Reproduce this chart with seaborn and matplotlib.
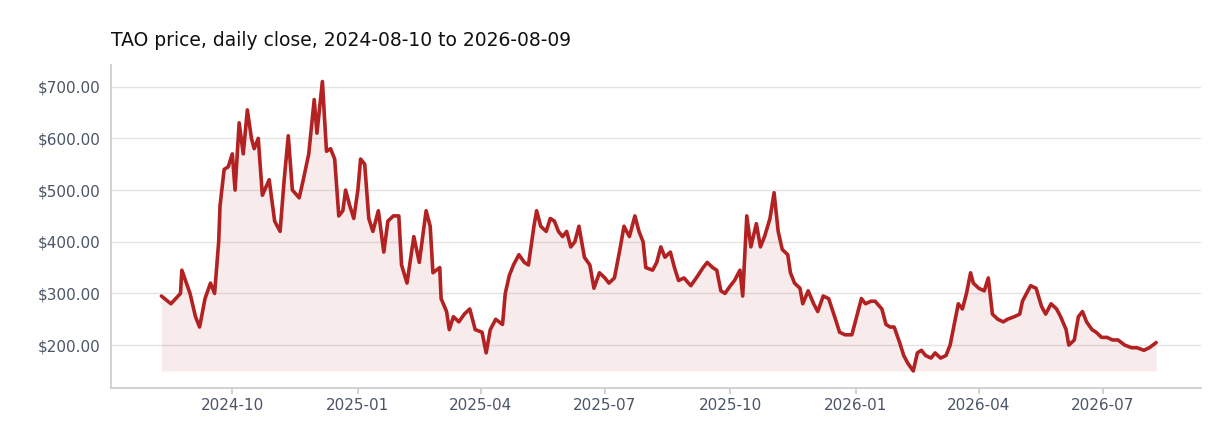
import matplotlib
matplotlib.use("Agg")
import matplotlib.pyplot as plt
import matplotlib.dates as mdates
import seaborn as sns
import pandas as pd
import numpy as np

start_date = "2024-08-10"
day_offsets = [0,7,14,15,21,25,28,32,36,39,42,43,46,49,52,54,57,60,63,66,68,71,74,79,83,87,90,93,96,101,104,108,112,114,118,121,124,127,130,133,135,138,141,144,146,149,152,155,159,163,166,170,174,176,180,185,189,194,197,199,204,205,209,211,214,218,222,226,230,235,238,241,245,250,252,255,258,262,266,269,273,275,278,282,285,288,291,294,297,300,303,306,310,314,317,321,325,328,332,336,339,343,347,350,353,355,360,363,366,369,373,376,379,383,388,392,397,400,404,407,410,413,417,420,424,426,429,432,436,439,442,446,449,452,455,459,461,464,468,470,474,478,481,485,489,494,497,501,506,509,513,516,520,523,528,531,534,537,541,544,547,551,554,557,560,564,567,571,575,578,581,584,587,590,593,595,599,603,606,609,613,617,620,625,629,631,634,637,641,645,648,652,656,659,663,665,669,672,675,678,682,685,689,693,697,701,706,711,715,720,724,729]
prices = [295,280,300,345,300,255,235,290,320,300,400,470,540,545,570,500,630,570,655,600,580,600,490,520,440,420,520,605,500,485,520,570,675,610,710,575,580,560,450,460,500,470,445,500,560,550,445,420,460,380,440,450,450,355,320,410,360,460,430,340,350,290,265,230,255,245,260,270,230,225,185,230,250,240,300,335,355,375,360,355,430,460,430,420,445,440,420,410,420,390,400,430,370,355,310,340,330,320,330,385,430,410,450,420,400,350,345,360,390,370,380,350,325,330,315,330,350,360,350,345,305,300,315,325,345,295,450,390,435,390,410,445,495,420,385,375,340,320,310,280,305,280,265,295,290,250,225,220,220,250,290,280,285,285,270,240,235,235,205,180,165,150,185,190,180,175,185,175,180,200,240,280,270,300,340,320,310,305,330,260,250,245,250,255,260,285,300,315,310,275,260,280,270,255,230,200,210,255,265,245,230,225,215,215,210,210,200,195,195,190,195,205]

df = pd.DataFrame({"date": pd.to_datetime(start_date) + pd.to_timedelta(day_offsets, unit="D"),
                   "price": prices})

sns.set_theme(style="white")
fig, ax = plt.subplots(figsize=(12.32, 4.48), dpi=100)
fig.subplots_adjust(left=0.09, right=0.975, top=0.855, bottom=0.135)
color = "#b22222"
ax.fill_between(df["date"], df["price"], df["price"].min(), color=color, alpha=0.09, linewidth=0)
sns.lineplot(data=df, x="date", y="price", ax=ax, color=color, linewidth=2.6)
ax.set_ylim(118, 742)
ax.set_xlim(pd.Timestamp("2024-07-04"), pd.Timestamp("2026-09-11"))
ax.set_yticks([200, 300, 400, 500, 600, 700])
ax.yaxis.set_major_formatter(matplotlib.ticker.FuncFormatter(lambda v, p: f"${v:,.2f}"))
ax.xaxis.set_major_locator(mdates.MonthLocator(bymonth=[1, 4, 7, 10]))
ax.xaxis.set_major_formatter(mdates.DateFormatter("%Y-%m"))
ax.grid(axis="y", color="#e5e5e5", linewidth=1)
ax.set_xlabel(""); ax.set_ylabel("")
for s in ["top", "right"]:
    ax.spines[s].set_visible(False)
for s in ["left", "bottom"]:
    ax.spines[s].set_color("#cccccc")
ax.tick_params(axis="both", colors="#4a5568", labelsize=11, length=4, color="#cccccc", left=False, bottom=True)
ax.set_title("TAO price, daily close, 2024-08-10 to 2026-08-09", loc="left", fontsize=13.5, color="#111111", pad=14)
fig.savefig("out.png")
